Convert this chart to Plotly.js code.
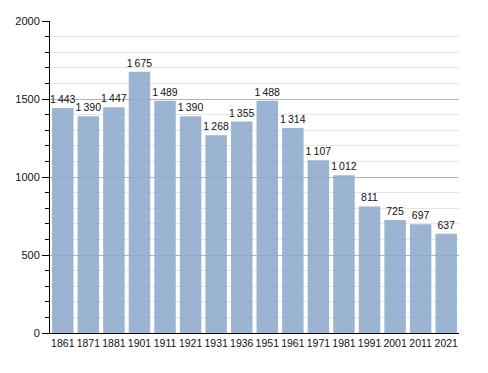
<!DOCTYPE html>
<html><head><meta charset="utf-8">
<script src="https://cdn.plot.ly/plotly-3.0.1.min.js"></script>
<style>html,body{margin:0;padding:0;background:#fff}#c{width:488px;height:373px}</style>
</head><body><div id="c"></div>
<script>
const years = ['1861','1871','1881','1901','1911','1921','1931','1936','1951','1961','1971','1981','1991','2001','2011','2021'];
const population = [1443,1390,1447,1675,1489,1390,1268,1355,1488,1314,1107,1012,811,725,697,637];
const fmt = v => { const s = String(v); return s.length > 3 ? s.slice(0, s.length-3) + '\u2009' + s.slice(-3) : s; };
const labels = population.map(fmt);
Plotly.newPlot('c', [{
  type: 'bar', x: years, y: population, text: labels, textposition: 'outside',
  constraintext: 'none', cliponaxis: false, marker: {color: 'rgba(140,170,204,0.88)'},
  textfont: {family: 'Liberation Sans, Arial, sans-serif', size: 10.5, color: '#111'},
  hoverinfo: 'none'
}], {
  width: 488, height: 373, margin: {l: 50, r: 29, t: 21, b: 40},
  paper_bgcolor: '#fff', plot_bgcolor: '#fff', bargap: 0.16, showlegend: false,
  font: {family: 'Liberation Sans, Arial, sans-serif', size: 11, color: '#111'},
  xaxis: {type: 'category', showline: true, linecolor: '#000', linewidth: 1, ticks: '', tickangle: 0, tickfont: {size: 10.5}, showgrid: false},
  yaxis: {range: [0, 2000], dtick: 500, showline: true, linecolor: '#000', linewidth: 1,
    ticks: 'outside', ticklen: 7, tickcolor: '#000', gridcolor: '#b4b4b4', zeroline: false,
    minor: {dtick: 100, ticks: 'outside', ticklen: 4, tickcolor: '#000', showgrid: true, gridcolor: '#e6e6e6'}}
}, {staticPlot: true});
</script></body></html>
